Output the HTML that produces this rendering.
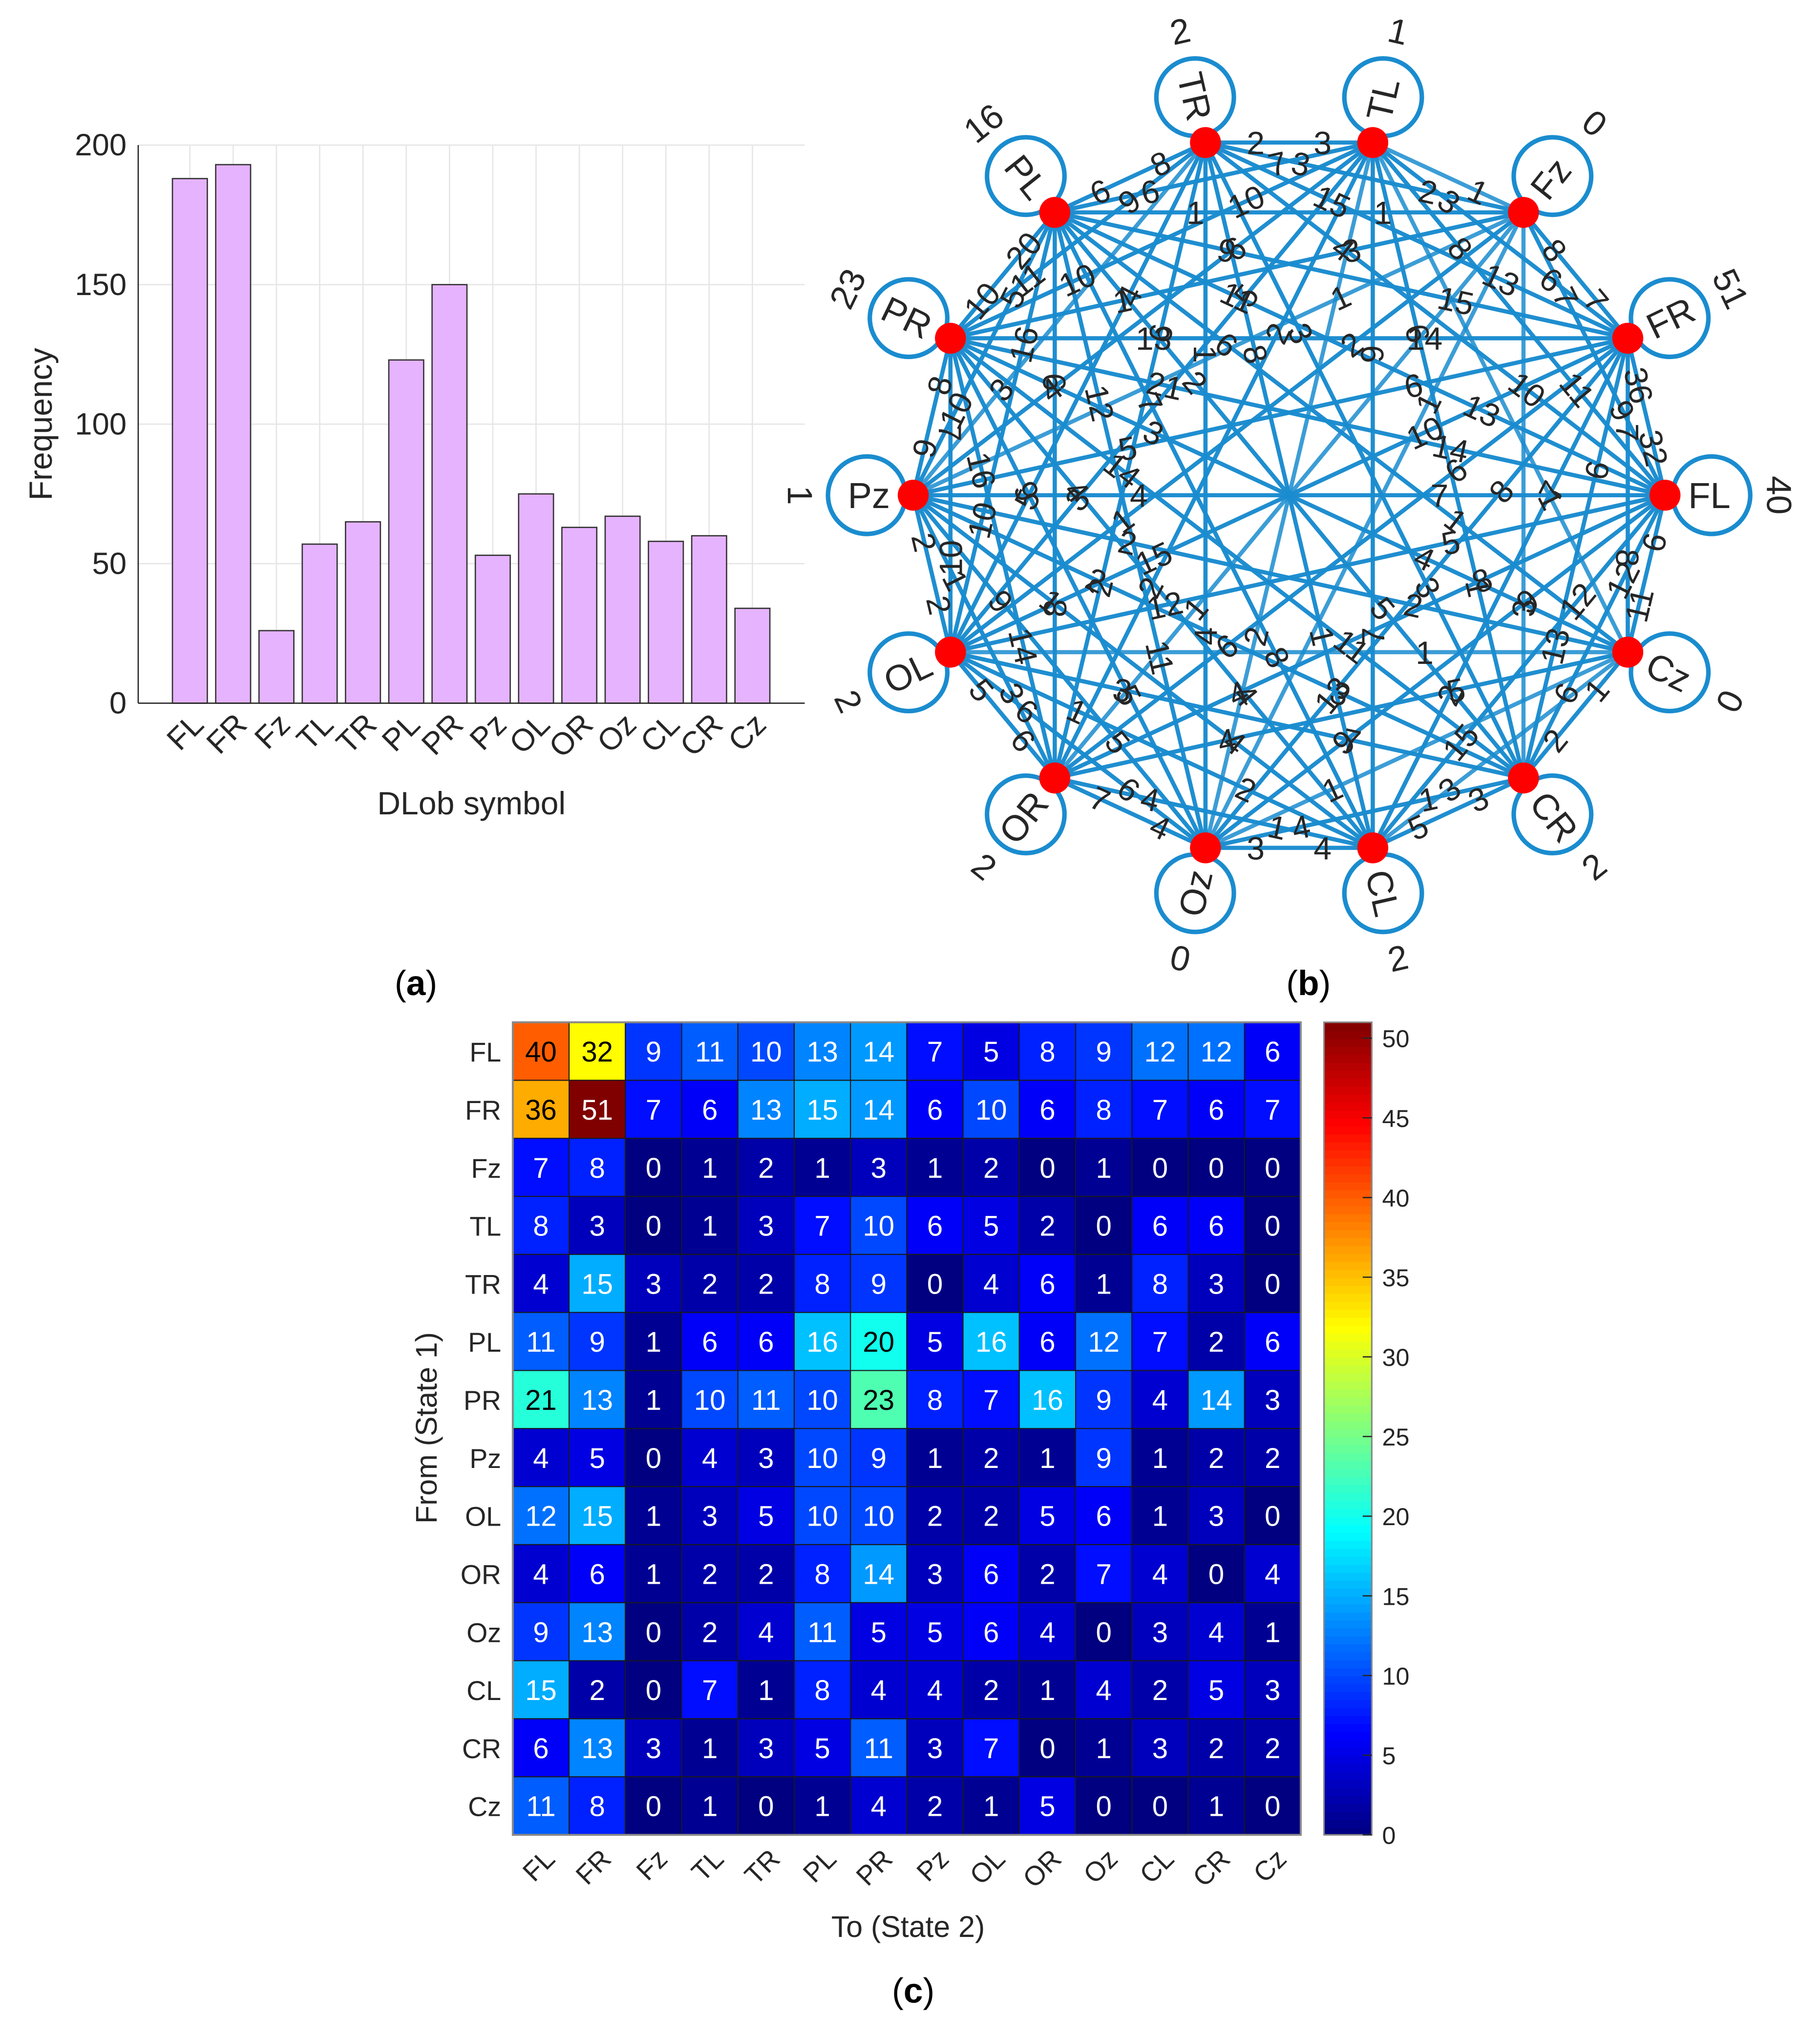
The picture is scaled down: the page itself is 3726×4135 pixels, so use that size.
<!DOCTYPE html>
<html><head><meta charset="utf-8"><style>
html,body{margin:0;padding:0;background:#fff;}
svg{display:block;}
text{font-family:"Liberation Sans",sans-serif;}
</style></head><body>
<svg id="root" xmlns="http://www.w3.org/2000/svg" width="3726" height="4135" viewBox="0 0 1409 1563">
<rect width="1409" height="1563" fill="#fff"/>
<g id="bars"></g>
<g id="net"></g>
<g id="heat"></g>
<text x="322" y="770" font-family="Liberation Serif" font-size="27" text-anchor="middle">(<tspan font-weight="bold">a</tspan>)</text>
<text x="1013" y="770" font-family="Liberation Serif" font-size="27" text-anchor="middle">(<tspan font-weight="bold">b</tspan>)</text>
<text x="707" y="1550" font-family="Liberation Serif" font-size="27" text-anchor="middle">(<tspan font-weight="bold">c</tspan>)</text>
</svg>
<script>
const categories=["FL","FR","Fz","TL","TR","PL","PR","Pz","OL","OR","Oz","CL","CR","Cz"];
const barValues=[188,193,26,57,65,123,150,53,75,63,67,58,60,34];
const yTicks=[0,50,100,150,200];
const cbTicks=[0,5,10,15,20,25,30,35,40,45,50];
const matrix=[
[40,32,9,11,10,13,14,7,5,8,9,12,12,6],
[36,51,7,6,13,15,14,6,10,6,8,7,6,7],
[7,8,0,1,2,1,3,1,2,0,1,0,0,0],
[8,3,0,1,3,7,10,6,5,2,0,6,6,0],
[4,15,3,2,2,8,9,0,4,6,1,8,3,0],
[11,9,1,6,6,16,20,5,16,6,12,7,2,6],
[21,13,1,10,11,10,23,8,7,16,9,4,14,3],
[4,5,0,4,3,10,9,1,2,1,9,1,2,2],
[12,15,1,3,5,10,10,2,2,5,6,1,3,0],
[4,6,1,2,2,8,14,3,6,2,7,4,0,4],
[9,13,0,2,4,11,5,5,6,4,0,3,4,1],
[15,2,0,7,1,8,4,4,2,1,4,2,5,3],
[6,13,3,1,3,5,11,3,7,0,1,3,2,2],
[11,8,0,1,0,1,4,2,1,5,0,0,1,0]];
const NS="http://www.w3.org/2000/svg";
function mk(tag,attrs,parent,txt){const e=document.createElementNS(NS,tag);for(const k in attrs)e.setAttribute(k,attrs[k]);if(txt!==undefined)e.textContent=txt;parent.appendChild(e);return e;}
function upright(a){a=((a+180)%360+360)%360-180;if(a>90)a-=180;if(a<-90)a+=180;return a;}

// ---- bar chart ----
const B=document.getElementById('bars');
const bx=i=>147+i*33.5, by=v=>544-v*(544-112)/200;
for(let i=0;i<categories.length;i++){const l=mk('line',{x1:bx(i),x2:bx(i),y1:112,y2:544,stroke:'#e6e6e6','stroke-width':1},B);

}
yTicks.forEach(t=>{const l=mk('line',{x1:107,x2:623,y1:by(t),y2:by(t),stroke:'#e6e6e6','stroke-width':1},B);


const tx=mk('text',{x:98,y:by(t)+8,'font-size':24,'text-anchor':'end',fill:'#262626'},B,t);

});
barValues.forEach((v,i)=>{const r=mk('rect',{x:bx(i)-13.5,y:by(v),width:27,height:by(0)-by(v),fill:'#e6b3ff',stroke:'#333','stroke-width':1},B);


const tx=mk('text',{x:0,y:0,'font-size':24,'text-anchor':'end',fill:'#262626',transform:`translate(${bx(i)+12},${562}) rotate(-45)`},B,categories[i]);

});
mk('line',{x1:107,x2:107,y1:112,y2:544,stroke:'#262626','stroke-width':1},B);
mk('line',{x1:107,x2:623,y1:544,y2:544,stroke:'#262626','stroke-width':1},B);
let t=mk('text',{x:365,y:630,'font-size':25,'text-anchor':'middle',fill:'#262626'},B,'DLob symbol');

t=mk('text',{x:0,y:0,'font-size':25,'text-anchor':'middle',fill:'#262626',transform:'translate(40,328) rotate(-90)'},B,'Frequency');


// ---- network graph ----
const N=document.getElementById('net');
const cx=998,cy=383,rx=291,ry=280;
const ang=i=>-i*2*Math.PI/14;
const nx=i=>cx+rx*Math.cos(ang(i)), ny=i=>cy+ry*Math.sin(ang(i));
const eg=mk('g',{},N);const lg=mk('g',{},N);
for(let i=0;i<14;i++)for(let j=0;j<14;j++){if(i===j||matrix[i][j]===0)continue;
 const l=mk('line',{x1:nx(i),y1:ny(i),x2:nx(j),y2:ny(j),stroke:'#1a8ccf','stroke-width':3.2,'stroke-opacity':0.85},eg);
 
 
 const px=nx(i)+(nx(j)-nx(i))*0.3,py=ny(i)+(ny(j)-ny(i))*0.3;
 const a=upright(Math.atan2(ny(j)-ny(i),nx(j)-nx(i))*180/Math.PI);
 const tx=mk('text',{x:0,y:0,'font-size':25,'text-anchor':'middle',fill:'#262626',transform:`translate(${px},${py}) rotate(${a}) translate(0,9)`},lg,matrix[i][j]);
 
 }
for(let i=0;i<14;i++){const c=Math.cos(ang(i)),s=Math.sin(ang(i));
 const lp=mk('circle',{cx:nx(i)+c*36,cy:ny(i)+s*36,r:30,fill:'none',stroke:'#1a8ccf','stroke-width':3.5},N);
 
 
 const nd=mk('circle',{cx:nx(i),cy:ny(i),r:12,fill:'#ff0000'},N);
 
 
 const a=upright(ang(i)*180/Math.PI);
 const flip=c<-0.01;
 const tx=mk('text',{x:0,y:0,'font-size':28,'text-anchor':flip?'end':'start',fill:'#262626',transform:`translate(${nx(i)+c*18},${ny(i)+s*18}) rotate(${a}) translate(0,10)`},N,categories[i]);
 
 
 const wx=nx(i)+c*88,wy=ny(i)+s*88;
 const w=mk('text',{x:0,y:0,'font-size':27,'text-anchor':'middle',fill:'#262626',transform:`translate(${wx},${wy}) rotate(${upright(a+90)}) translate(0,9)`},N,matrix[i][i]);
 
 }

// ---- heatmap ----
const H=document.getElementById('heat');
const hx0=397,hy0=791,cw=(1007-397)/14,ch=(1420-791)/14,vmax=51;
function jet(v){const x=Math.max(0,Math.min(1,v/vmax));const f=t=>Math.max(0,Math.min(1,1.5-Math.abs(4*x-t)));
 return `rgb(${Math.round(255*f(3))},${Math.round(255*f(2))},${Math.round(255*f(1))})`;}
matrix.forEach((row,i)=>row.forEach((v,j)=>{
 const r=mk('rect',{x:hx0+j*cw,y:hy0+i*ch,width:cw,height:ch,fill:jet(v),stroke:'#1a1a1a','stroke-width':0.8},H);
 
 
 const dark=v>=19&&v<=45;
 const tx=mk('text',{x:hx0+(j+0.5)*cw,y:hy0+(i+0.5)*ch+8,'font-size':22,'text-anchor':'middle',fill:dark?'#000':'#fff'},H,v);
 
 }));
mk('rect',{x:hx0,y:hy0,width:610,height:629,fill:'none',stroke:'#888','stroke-width':1.5},H);
categories.forEach((c,i)=>{const a=mk('text',{x:388,y:hy0+(i+0.5)*ch+8,'font-size':21,'text-anchor':'end',fill:'#262626'},H,c);
 
 const b=mk('text',{x:0,y:0,'font-size':21,'text-anchor':'end',fill:'#262626',transform:`translate(${hx0+(i+0.5)*cw+12},${1440}) rotate(-45)`},H,c);
 });
t=mk('text',{x:703,y:1499,'font-size':23,'text-anchor':'middle',fill:'#262626'},H,'To (State 2)');

t=mk('text',{x:0,y:0,'font-size':23,'text-anchor':'middle',fill:'#262626',transform:'translate(338,1105) rotate(-90)'},H,'From (State 1)');

const cb=mk('g',{},H);
const cby=v=>1420-v*(1420-791)/vmax;
for(let k=0;k<102;k++){const v0=k*vmax/102;mk('rect',{x:1025,y:cby(v0+vmax/102),width:37,height:629/102+0.6,fill:jet(v0+vmax/204)},cb);}
mk('rect',{x:1025,y:791,width:37,height:629,fill:'none',stroke:'#888','stroke-width':1.2},cb);
cbTicks.forEach(v=>{mk('line',{x1:1055,x2:1062,y1:cby(v),y2:cby(v),stroke:'#262626','stroke-width':1},cb);
 const tx=mk('text',{x:1070,y:cby(v)+7,'font-size':19,fill:'#262626'},cb,v);
 });
</script>
</body></html>
